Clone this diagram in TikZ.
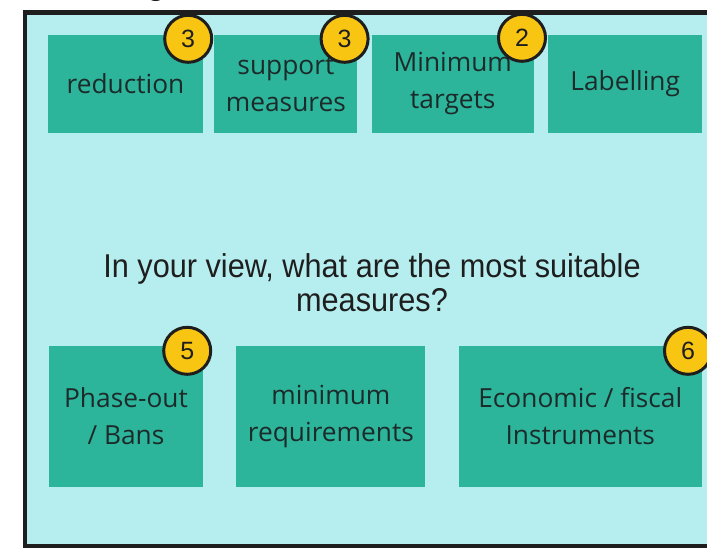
\documentclass[tikz,border=0pt]{standalone}
\usepackage{fontspec}
\setmainfont{Open Sans}
\newfontfamily\askfont[FakeStretch=0.93]{Liberation Sans}
\newfontfamily\numfont{Liberation Sans}
\usetikzlibrary{positioning}
\definecolor{panelbg}{HTML}{B6EEF0}
\definecolor{tealbox}{HTML}{2DB59C}
\definecolor{badgeyellow}{HTML}{F9C513}
\definecolor{inkdark}{HTML}{1E1E1E}
\definecolor{boxtext}{HTML}{1C2B2A}

\begin{document}
\begin{tikzpicture}[x=1pt,y=-1pt]
\tikzstyle{measure}=[fill=tealbox,text=boxtext,align=center,inner sep=0pt,font=\fontsize{26.3}{37}\selectfont]

\tikzstyle{badge}=[circle,draw=inkdark,line width=3pt,fill=badgeyellow,minimum size=47pt,inner sep=0pt,text=inkdark,font=\numfont\fontsize{25}{30}\selectfont]

\useasboundingbox (0,0) rectangle (707,548);

\begin{scope}
\clip (0,0) rectangle (707,548);
\node (title) [anchor=base,inner sep=0pt,text=inkdark,font=\numfont\fontsize{34}{40}\selectfont] at (156,-5) {g};
\draw [fill=panelbg,draw=inkdark,line width=4.5pt] (25,12.5) rectangle (740,546);
\end{scope}

% top row
\node (reduction) [measure,minimum width=155pt,minimum height=98pt] at (125.5,84) {reduction};
\node (support) [measure,minimum width=143pt,minimum height=98pt,right=11pt of reduction] {support\\measures};
\node (targets) [measure,minimum width=162pt,minimum height=98pt,right=14pt of support] {Minimum\\targets};
\node (labelling) [measure,minimum width=154pt,minimum height=98pt,right=14pt of targets] {Labelling};

% bottom row
\node (phaseout) [measure,minimum width=154pt,minimum height=141pt] at (126,416.5) {Phase-out\\/ Bans};
\node (minreq) [measure,minimum width=189pt,minimum height=141pt,right=33pt of phaseout] {minimum\\requirements};
\node (fiscal) [measure,minimum width=243pt,minimum height=141pt,right=33pt of minreq] {Economic / fiscal\\Instruments};

\node (question) [align=center,inner sep=0pt,text=inkdark,font=\askfont\fontsize{33}{34}\selectfont] at (372,283) {In your view, what are the most suitable\\measures?};

% vote counts
\node (v1) [badge] at ([xshift=-15pt,yshift=-4pt]reduction.north east) {3};
\node (v2) [badge] at ([xshift=-13pt,yshift=-4pt]support.north east) {3};
\node (v3) [badge] at ([xshift=-12pt,yshift=-3pt]targets.north east) {2};
\node (v4) [badge] at ([xshift=-16pt,yshift=-5pt]phaseout.north east) {5};
\node (v5) [badge] at ([xshift=-14pt,yshift=-5pt]fiscal.north east) {6};
\end{tikzpicture}
\end{document}
